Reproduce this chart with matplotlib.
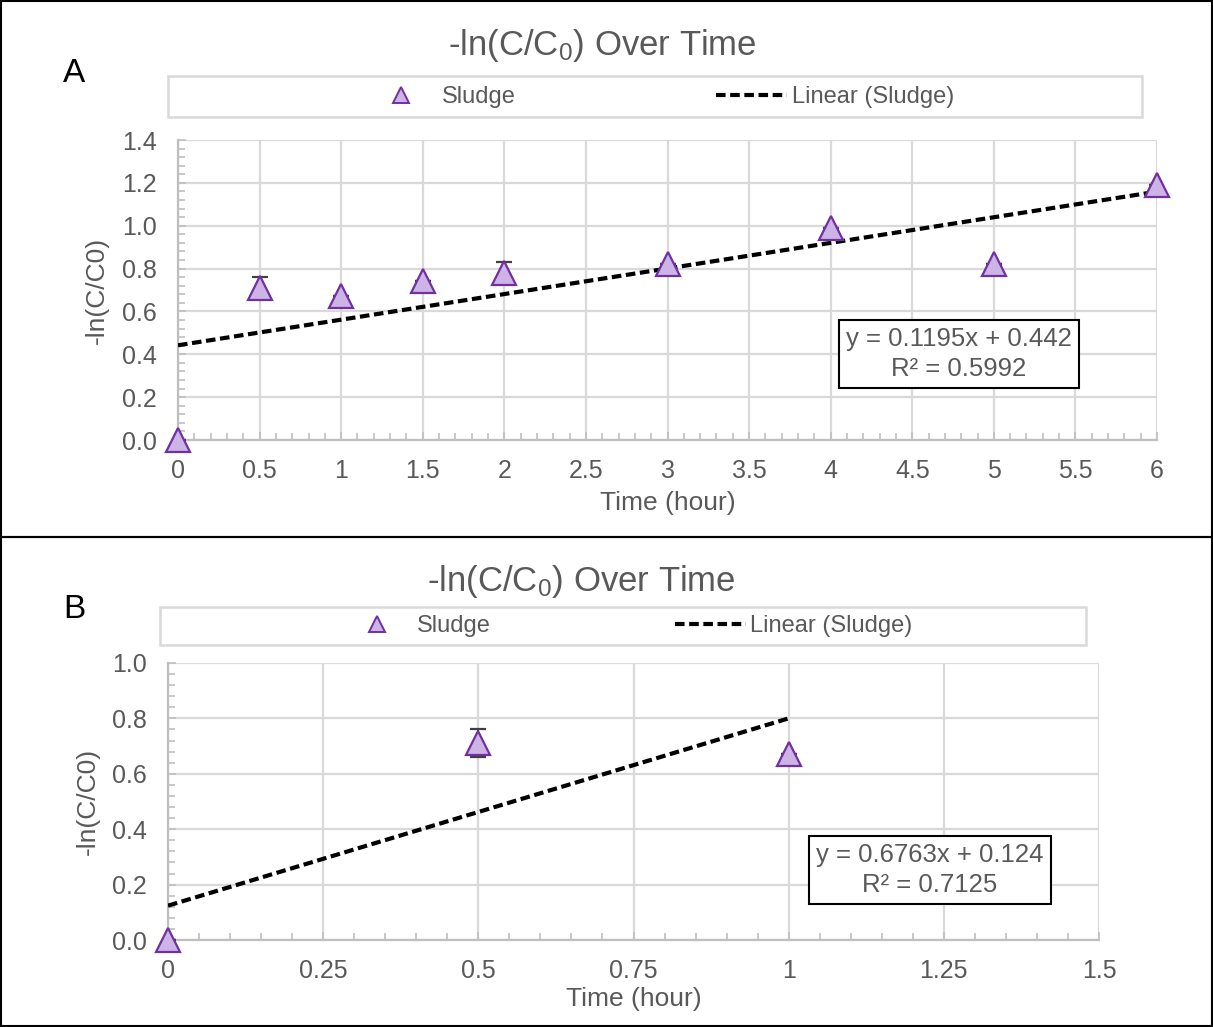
import numpy as np
import matplotlib
matplotlib.use("Agg")
import matplotlib.pyplot as plt
from matplotlib.lines import Line2D
from matplotlib.patches import Rectangle
from matplotlib.ticker import MultipleLocator

plt.rcParams["font.family"] = ["Liberation Sans", "DejaVu Sans"]
plt.rcParams["mathtext.fontset"] = "custom"
plt.rcParams["mathtext.rm"] = "Liberation Sans"
plt.rcParams["mathtext.it"] = "Liberation Sans"

# panel A data
time_a = [0, 0.5, 1, 1.5, 2, 3, 4, 5, 6]
lnc_a = [0.0, 0.71, 0.67, 0.74, 0.78, 0.82, 0.99, 0.82, 1.19]
err_a = [0.0, 0.05, 0.0, 0.0, 0.05, 0.0, 0.0, 0.0, 0.0]
xticks_a = [0, 0.5, 1, 1.5, 2, 2.5, 3, 3.5, 4, 4.5, 5, 5.5, 6]
yticks_a = [0.0, 0.2, 0.4, 0.6, 0.8, 1.0, 1.2, 1.4]
slope_a, icpt_a, r2_a = 0.1195, 0.442, 0.5992

# panel B data
time_b = [0, 0.5, 1]
lnc_b = [0.0, 0.71, 0.67]
err_b = [0.0, 0.05, 0.0]
xticks_b = [0, 0.25, 0.5, 0.75, 1, 1.25, 1.5]
yticks_b = [0.0, 0.2, 0.4, 0.6, 0.8, 1.0]
slope_b, icpt_b, r2_b = 0.6763, 0.124, 0.7125

GREY = "#595959"
FACE = "#CDB3E6"
EDGE = "#7030A0"

fig = plt.figure(figsize=(12.13, 10.27), dpi=100)

# panel borders
fig.add_artist(Rectangle((0.0008, 1 - 537 / 1027), 0.9984, 537 / 1027 - 0.001,
                         transform=fig.transFigure, fill=False, ec="black", lw=1.5))
fig.add_artist(Rectangle((0.0008, 0.001), 0.9984, 1 - 537 / 1027 - 0.001,
                         transform=fig.transFigure, fill=False, ec="black", lw=1.5))


def px(x, y):
    return x / 1213, 1 - y / 1027


def make_panel(rect, xs, ys, errs, slope, icpt, r2, xticks, xminor, yticks,
               letter, title_xy, legbox, legcenter, colsp, eqbox, ylab_x, xlab_y):
    ax = fig.add_axes(rect)
    ax.set_xlim(0, xticks[-1])
    ax.set_ylim(0, yticks[-1])
    ax.set_xticks(xticks, ["%g" % v for v in xticks])
    ax.set_yticks(yticks, ["%.1f" % v for v in yticks])
    ax.xaxis.set_minor_locator(MultipleLocator(xminor))
    ax.yaxis.set_minor_locator(MultipleLocator(0.04))
    ax.grid(True, which="major", color="#D9D9D9", lw=1.6)
    ax.set_axisbelow(True)
    for s in ["top", "right"]:
        ax.spines[s].set_visible(False)
    for s in ["left", "bottom"]:
        ax.spines[s].set_color("#BFBFBF")
        ax.spines[s].set_linewidth(1.6)
    ax.tick_params(which="both", direction="in", color="#BFBFBF", labelsize=18,
                   labelcolor=GREY, width=1.2)
    ax.tick_params(which="major", length=6)
    ax.tick_params(which="minor", length=5)
    ax.tick_params(axis="x", pad=14)
    ax.tick_params(axis="y", pad=15)

    xs_line = np.array([0, max(xs)])
    ax.plot(xs_line, slope * xs_line + icpt, ls=(0, (2.3, 1.1)), color="black",
            lw=3.0, zorder=3)
    ax.errorbar(xs, ys, yerr=errs, fmt="none", ecolor="#404040", elinewidth=1.3,
                capsize=6, capthick=1.6, zorder=4)
    ax.plot(xs, ys, ls="none", marker="^", ms=17, mfc=FACE, mec=EDGE, mew=1.6,
            zorder=5, clip_on=False)

    ax.set_xlabel("Time (hour)", fontsize=19, color=GREY)
    ax.set_ylabel("-ln(C/C0)", fontsize=19, color=GREY)
    inv = ax.transAxes.inverted()
    ax.yaxis.set_label_coords(inv.transform(fig.transFigure.transform(px(ylab_x, 0)))[0], 0.5)
    ax.xaxis.set_label_coords(0.5, inv.transform(fig.transFigure.transform(px(0, xlab_y)))[1])
    ax.xaxis.label.set_va("center")
    ax.yaxis.label.set_va("center")

    fig.text(*px(*title_xy), "-ln(C/C$_0$) Over Time", fontsize=25, color=GREY,
             ha="center", va="center")
    fig.text(*px(*letter[1]), letter[0], fontsize=24, color="black",
             ha="center", va="center")

    # legend frame
    x0, y0, x1, y1 = legbox
    fig.add_artist(Rectangle(px(x0, y1), (x1 - x0) / 1213, (y1 - y0) / 1027,
                             transform=fig.transFigure, fill=False,
                             ec="#D9D9D9", lw=1.8))
    handles = [Line2D([], [], ls="none", marker="^", ms=11, mfc=FACE, mec=EDGE,
                      mew=1.4),
               Line2D([], [], ls=(0, (2.3, 1.1)), color="black", lw=3.0)]
    fig.legend(handles, ["Sludge", "Linear (Sludge)"], ncol=2, loc="center",
               bbox_to_anchor=px(*legcenter), frameon=False, fontsize=17,
               labelcolor=GREY, handlelength=3.0, handletextpad=0.2,
               columnspacing=colsp)

    # equation box
    ex, ey = eqbox
    fig.text(*px(ex, ey), "y = %.4fx + %g\nR² = %.4f" % (slope, icpt, r2),
             fontsize=18.5, color=GREY, ha="center", va="center", linespacing=1.3,
             bbox=dict(boxstyle="square,pad=0.28", fc="white", ec="black", lw=1.5))
    return ax


make_panel([178 / 1213, 1 - 440 / 1027, (1157 - 178) / 1213, 300 / 1027],
           time_a, lnc_a, err_a, slope_a, icpt_a, r2_a, xticks_a, 0.1, yticks_a,
           ("A", (74, 74)), (602, 46), (168, 76, 1142, 117), (660, 97), 8.5,
           (959, 354), 97, 503)

make_panel([168 / 1213, 1 - 940 / 1027, (1099 - 168) / 1213, 277 / 1027],
           time_b, lnc_b, err_b, slope_b, icpt_b, r2_b, xticks_b, 0.05, yticks_b,
           ("B", (74, 610)), (581, 581), (160, 607, 1086, 645), (627, 626), 7.8,
           (930, 870), 88, 999)

fig.savefig("out.png", dpi=100)
